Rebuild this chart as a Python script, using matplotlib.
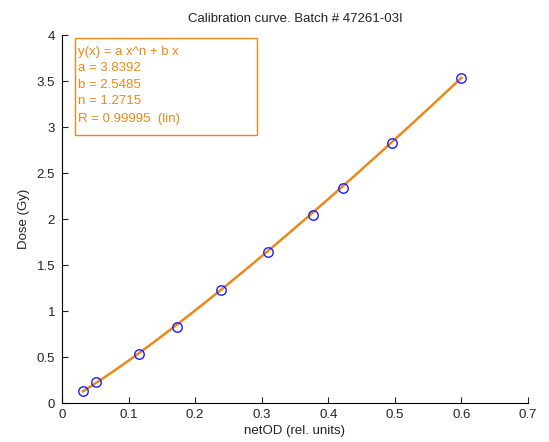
import matplotlib
matplotlib.use("Agg")
import matplotlib.pyplot as plt
import numpy as np
from matplotlib.patches import Rectangle

plt.rcParams['font.family'] = ['Liberation Sans', 'DejaVu Sans']

# measured points
net_od = [0.0315, 0.051, 0.1155, 0.173, 0.239, 0.309, 0.377, 0.422, 0.495, 0.600]
dose = [0.13, 0.228, 0.533, 0.826, 1.228, 1.641, 2.043, 2.337, 2.83, 3.53]

# fit parameters shown in the chart
fit_a = 3.8392
fit_b = 2.5485
fit_n = 1.2715
fit_r = 0.99995

title = "Calibration curve. Batch # 47261-03I"
xlabel = "netOD (rel. units)"
ylabel = "Dose (Gy)"
xticks = [0, 0.1, 0.2, 0.3, 0.4, 0.5, 0.6, 0.7]
xticklabels = ["0", "0.1", "0.2", "0.3", "0.4", "0.5", "0.6", "0.7"]
yticks = [0, 0.5, 1, 1.5, 2, 2.5, 3, 3.5, 4]
yticklabels = ["0", "0.5", "1", "1.5", "2", "2.5", "3", "3.5", "4"]

orange = '#E8891A'
text_col = '#222222'

fig = plt.figure(figsize=(5.49, 4.42), dpi=100)
ax = fig.add_axes([62/549, 1-403/442, 466/549, 368/442])

xs = np.linspace(min(net_od), max(net_od), 200)
ax.plot(xs, fit_a * xs**fit_n + fit_b * xs, color=orange, lw=1.8, zorder=2)
ax.plot(net_od, dose, 'o', mfc='none', mec='#1a1aff', ms=6.8, mew=1.0, zorder=3)

ax.set_xlim(0, 0.7)
ax.set_ylim(0, 4)
ax.set_xticks(xticks)
ax.set_xticklabels(xticklabels)
ax.set_yticks(yticks)
ax.set_yticklabels(yticklabels)
ax.tick_params(direction='in', length=4, labelsize=9.5, width=0.8, colors=text_col)
ax.tick_params(axis='y', pad=5)
ax.tick_params(axis='x', pad=4)
for s in ['top', 'right']:
    ax.spines[s].set_visible(False)
for s in ['left', 'bottom']:
    ax.spines[s].set_linewidth(0.8)

ax.set_title(title, fontsize=9.5, pad=9, color=text_col)
ax.set_xlabel(xlabel, fontsize=9.5, labelpad=3, color=text_col)
ax.set_ylabel(ylabel, fontsize=9.5, labelpad=5, color=text_col)

# fit info box
x0 = (75-62)/466
x1 = (257-62)/466
y0 = (403-135)/368
y1 = (403-38)/368
ax.add_patch(Rectangle((x0, y0), x1-x0, y1-y0, transform=ax.transAxes,
                       fill=True, facecolor='white', edgecolor=orange, lw=1.0, zorder=4))
lines = ["y(x) = a x^n + b x",
         f"a = {fit_a:.4f}",
         f"b = {fit_b:.4f}",
         f"n = {fit_n:.4f}",
         f"R = {fit_r:.5f}  (lin)"]
ypix = [52, 68, 84.5, 101.5, 119]
for t, yp in zip(lines, ypix):
    ax.text((78-62)/466, (403-yp)/368, t, transform=ax.transAxes, color=orange,
            fontsize=9.5, va='center', ha='left', zorder=5)

fig.savefig("out.png", dpi=100)
